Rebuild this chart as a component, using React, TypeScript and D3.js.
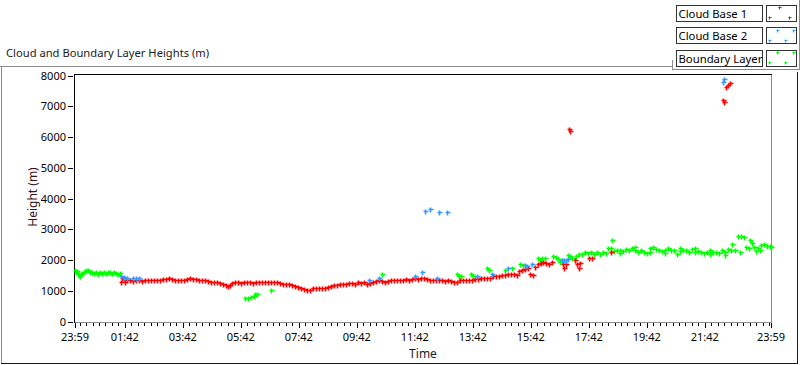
import React from "react";
import * as d3 from "d3";

// minutes after midnight (start of axis is 23:59 of the day before = -1), height in m
const cloudBase1: [number, number][] = [
  [94, 1270], [96, 1430], [100, 1430], [102, 1285], [107, 1350], [113, 1335], [119, 1315], [125, 1350],
  [131, 1335], [138, 1315], [144, 1350], [150, 1335], [156, 1350], [162, 1350], [169, 1365], [175, 1365],
  [181, 1380], [187, 1380], [193, 1430], [200, 1380], [206, 1335], [212, 1350], [218, 1365], [225, 1365],
  [231, 1380], [237, 1400], [243, 1380], [249, 1380], [256, 1365], [262, 1350], [268, 1335], [274, 1315],
  [280, 1300], [287, 1285], [293, 1270], [299, 1250], [305, 1220], [311, 1185], [316, 1155], [320, 1185],
  [324, 1250], [330, 1270], [336, 1270], [342, 1250], [349, 1270], [355, 1270], [361, 1285], [367, 1250],
  [374, 1270], [380, 1285], [386, 1285], [392, 1285], [398, 1300], [405, 1285], [411, 1285], [417, 1270],
  [423, 1250], [429, 1235], [436, 1220], [442, 1205], [448, 1185], [454, 1155], [460, 1120], [467, 1090],
  [473, 1055], [479, 1025], [485, 1040], [491, 1075], [498, 1090], [504, 1090], [510, 1090], [516, 1105],
  [522, 1120], [529, 1155], [535, 1185], [541, 1185], [547, 1205], [553, 1220], [560, 1235], [566, 1250],
  [572, 1250], [578, 1235], [585, 1270], [591, 1250], [597, 1270], [603, 1235], [609, 1250], [616, 1300],
  [622, 1315], [628, 1350], [634, 1315], [640, 1285], [647, 1315], [653, 1350], [659, 1350], [665, 1365],
  [671, 1350], [678, 1365], [684, 1380], [690, 1365], [696, 1380], [702, 1400], [709, 1380], [715, 1430],
  [721, 1415], [727, 1380], [733, 1365], [740, 1350], [746, 1365], [752, 1350], [758, 1335], [765, 1315],
  [771, 1335], [777, 1315], [783, 1300], [789, 1300], [796, 1335], [802, 1350], [808, 1350], [814, 1350],
  [820, 1365], [827, 1380], [833, 1380], [839, 1400], [845, 1415], [851, 1415], [858, 1430], [864, 1465],
  [870, 1480], [876, 1495], [882, 1510], [889, 1510], [895, 1545], [901, 1560], [907, 1545], [913, 1510],
  [918, 1640], [924, 1690], [930, 1705], [936, 1740], [940, 1545], [947, 1510], [951, 1770], [957, 1855],
  [963, 1900], [967, 1935], [974, 1900], [980, 1870], [986, 1935], [1009, 1870], [1011, 1755], [1015, 1885],
  [1021, 6260], [1023, 6210], [1034, 2000], [1038, 1885], [1042, 1755], [1044, 1900], [1062, 2050],
  [1069, 2065], [1108, 2260], [1340, 7200], [1342, 7140], [1346, 7625], [1350, 7690], [1354, 7755],
];

const cloudBase2: [number, number][] = [
  [94, 1480], [100, 1445], [107, 1400], [119, 1415], [125, 1430], [131, 1415], [607, 1365], [628, 1430],
  [702, 1495], [717, 1595], [723, 3595], [733, 3660], [748, 1430], [752, 3545], [769, 3575], [831, 1480],
  [862, 1560], [895, 1725], [930, 1835], [934, 1805], [944, 1885], [1007, 2000], [1011, 2015], [1015, 2000],
  [1019, 2035], [1340, 7790], [1342, 7900],
];

const boundaryLayer: [number, number][] = [
  [-1, 1660], [1, 1610], [3, 1640], [5, 1560], [7, 1510], [9, 1480], [11, 1530], [13, 1575], [18, 1625],
  [22, 1660], [26, 1675], [30, 1625], [34, 1595], [38, 1575], [42, 1610], [47, 1560], [51, 1595], [55, 1575],
  [59, 1595], [63, 1575], [67, 1595], [71, 1595], [76, 1575], [80, 1595], [84, 1575], [88, 1560], [92, 1575],
  [351, 780], [357, 780], [363, 795], [369, 845], [371, 910], [376, 880], [405, 1010],
  [634, 1560], [789, 1530], [794, 1480], [798, 1495], [818, 1530], [822, 1465], [851, 1755], [856, 1660],
  [889, 1675], [903, 1755], [920, 1870], [926, 1835], [957, 2050], [961, 2000], [965, 2065], [971, 2080],
  [988, 2130], [994, 2100], [998, 2035], [1002, 1935], [1007, 2015], [1019, 2165], [1023, 2130], [1027, 2080],
  [1036, 2130], [1042, 2180], [1048, 2195], [1054, 2245], [1060, 2230], [1067, 2245], [1073, 2210],
  [1079, 2260], [1085, 2195], [1091, 2245], [1098, 2230], [1102, 2390], [1108, 2405], [1110, 2665],
  [1114, 2295], [1120, 2340], [1127, 2310], [1127, 2230], [1133, 2295], [1139, 2360], [1145, 2325],
  [1151, 2375], [1158, 2325], [1158, 2425], [1164, 2275], [1170, 2310], [1176, 2260], [1182, 2230],
  [1189, 2390], [1189, 2260], [1195, 2425], [1201, 2360], [1207, 2325], [1213, 2295], [1220, 2340],
  [1220, 2230], [1226, 2375], [1232, 2310], [1238, 2325], [1244, 2180], [1251, 2295], [1251, 2390],
  [1257, 2340], [1263, 2310], [1269, 2275], [1276, 2360], [1282, 2260], [1282, 2375], [1288, 2295],
  [1294, 2245], [1300, 2230], [1307, 2260], [1313, 2210], [1313, 2340], [1319, 2245], [1325, 2275],
  [1331, 2230], [1338, 2310], [1344, 2260], [1344, 2165], [1350, 2360], [1356, 2325], [1358, 2505],
  [1365, 2310], [1371, 2765], [1375, 2260], [1377, 2765], [1383, 2750], [1387, 2425], [1394, 2390],
  [1396, 2665], [1400, 2555], [1404, 2425], [1408, 2295], [1412, 2405], [1416, 2325], [1418, 2490],
  [1425, 2520], [1431, 2455], [1437, 2470], [1439, 2425],
];

const xTickLabels = ["23:59", "01:42", "03:42", "05:42", "07:42", "09:42", "11:42", "13:42", "15:42", "17:42", "19:42", "21:42", "23:59"];
const yTicks = [0, 1000, 2000, 3000, 4000, 5000, 6000, 7000, 8000];
const legendNames = ["Cloud Base 1", "Cloud Base 2", "Boundary Layer"];
const colors = ["#ff0000", "#3399ff", "#00ff00"];

const font = "'Noto Sans', 'Open Sans', sans-serif";

function plus(cx: number, cy: number, r: number) {
  const px = Math.round(cx) + 0.5;
  const py = Math.round(cy) + 0.5;
  return `M${px - r},${py}H${px + r + 1}M${px},${py - r}V${py + r + 1}`;
}

export default function App() {
  const x = d3.scaleLinear().domain([-1, 1439]).range([75, 771]);
  const y = d3.scaleLinear().domain([0, 8000]).range([321.5, 75.5]);

  const tickMins = xTickLabels.map((s, i) => {
    const [h, m] = s.split(":").map(Number);
    const v = h * 60 + m;
    return i === 0 ? v - 1440 : v;
  });
  const minorStep = 120 / 9;
  const minor: number[] = [];
  for (let t = tickMins[1] - minorStep; t > -1; t -= minorStep) minor.push(t);
  for (let t = tickMins[1] + minorStep; t < 1439 - 2; t += minorStep) minor.push(t);

  const series = [cloudBase1, cloudBase2, boundaryLayer];
  const drawOrder = [2, 0, 1];

  const legendIcons = [
    [[779, 7], [769, 17], [789, 17]],
    [[777, 30], [793, 30], [769, 40], [785, 40]],
    [[777, 52], [793, 52], [769, 62], [785, 62]],
  ];
  const legendTops = [5, 27, 50];

  return (
    <svg width={800} height={365} style={{ position: "absolute", left: 0, top: 0, background: "#fff" }}>
      {/* outer frame */}
      <line x1={0} x2={672} y1={66.5} y2={66.5} stroke="#8c8c8c" />
      <line x1={1.5} x2={1.5} y1={66} y2={363} stroke="#8c8c8c" />
      <line x1={1} x2={798} y1={363.5} y2={363.5} stroke="#1a1a1a" />
      <line x1={797.5} x2={797.5} y1={72} y2={364} stroke="#1a1a1a" />

      <text x={6} y={57} fontFamily={font} fontSize={11.2} fill="#1a1a1a">Cloud and Boundary Layer Heights (m)</text>

      {/* legend */}
      <line x1={672.5} x2={672.5} y1={60} y2={69} stroke="#8c8c8c" />
      <line x1={672} x2={800} y1={69.5} y2={69.5} stroke="#8c8c8c" />
      <line x1={799.5} x2={799.5} y1={0} y2={69} stroke="#8c8c8c" />
      {legendNames.map((name, i) => {
        const top = legendTops[i];
        return (
          <g key={name}>
            <rect x={676.5} y={top + 0.5} width={86} height={16} fill="#fff" stroke="#333" />
            <text x={678.5} y={top + 12.5} fontFamily={font} fontSize={11.3} fill="#000">{name}</text>
            <rect x={766.5} y={top + 0.5} width={30} height={16} fill="#fff" stroke="#333" />
            {legendIcons[i].map(([cx, cy], k) => (
              <path key={k} d={plus(cx, cy, 1)} stroke={colors[i]} strokeWidth={1} fill="none" />
            ))}
          </g>
        );
      })}

      {/* plot frame */}
      <line x1={74} x2={772} y1={74.5} y2={74.5} stroke="#000" />
      <line x1={74.5} x2={74.5} y1={74} y2={323} stroke="#000" />
      <line x1={771.5} x2={771.5} y1={75} y2={323} stroke="#8c8c8c" />
      <line x1={75} x2={772} y1={322.5} y2={322.5} stroke="#8c8c8c" />

      {/* y axis */}
      {yTicks.map((t) => (
        <g key={t}>
          <line x1={68} x2={73} y1={Math.round(y(t)) + 0.5} y2={Math.round(y(t)) + 0.5} stroke="#000" />
          <text x={66} y={y(t) + 4} textAnchor="end" fontFamily={font} fontSize={11} fill="#000">{t}</text>
        </g>
      ))}
      <text transform={`translate(37,197) rotate(-90)`} textAnchor="middle" fontFamily={font} fontSize={12} fill="#3d1414">Height (m)</text>

      {/* x axis */}
      {minor.map((t, i) => (
        <line key={i} x1={Math.round(x(t)) + 0.5} x2={Math.round(x(t)) + 0.5} y1={323} y2={326} stroke="#000" />
      ))}
      {tickMins.map((t, i) => (
        <g key={i}>
          <line x1={Math.round(x(t)) + 0.5} x2={Math.round(x(t)) + 0.5} y1={323} y2={328} stroke="#000" />
          <text x={x(t)} y={341} textAnchor="middle" fontFamily={font} fontSize={11} fill="#000">{xTickLabels[i]}</text>
        </g>
      ))}
      <text x={423} y={358} textAnchor="middle" fontFamily={font} fontSize={12} fill="#1a1a1a">Time</text>

      {/* data */}
      {drawOrder.map((si) => (
        <path
          key={si}
          d={series[si].map(([t, h]) => plus(x(t), y(h), 2)).join("")}
          stroke={colors[si]}
          strokeWidth={1.6}
          fill="none"
        />
      ))}
    </svg>
  );
}
